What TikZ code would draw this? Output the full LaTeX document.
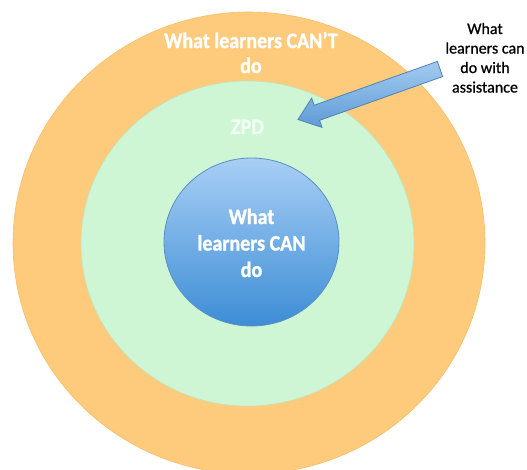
\documentclass[tikz,border=0pt]{standalone}
\usepackage{fontspec}
\setmainfont{Carlito}
\newfontfamily\tallfont{Carlito}[FakeStretch=0.91, FakeBold=1.2]
\newfontfamily\sidefont{Carlito}[FakeBold=0.8]
\usetikzlibrary{shapes.geometric,calc}
\definecolor{orangefill}{HTML}{FDCB7B}
\definecolor{orangeline}{HTML}{F5BF6C}
\definecolor{greenfill}{HTML}{CEF5D4}
\definecolor{greenline}{HTML}{BFE6C3}
\definecolor{bluetop}{HTML}{A8CFF5}
\definecolor{bluebot}{HTML}{3D8DD5}
\definecolor{blueline}{HTML}{5A90C4}
\definecolor{arrowtop}{HTML}{A3CBF0}
\definecolor{arrowbot}{HTML}{5E9BD6}
\definecolor{arrowline}{HTML}{4F82B8}
\definecolor{zpdtext}{HTML}{F2FFF4}
\tikzset{
  ring/.style={ellipse, inner sep=0pt},
  whitelabel/.style={text=white, font=\tallfont\bfseries\fontsize{22}{26}\selectfont, align=center, inner sep=0pt},
  sidelabel/.style={text=black, font=\sidefont\fontsize{16}{19.5}\selectfont, align=center, inner sep=0pt}
}
\begin{document}
\begin{tikzpicture}[x=1pt,y=-1pt]
\useasboundingbox (0,0) rectangle (527,469);
\fill[white] (0,0) rectangle (527,469);
\node[ring, fill=orangefill, draw=orangeline, line width=0.6pt, minimum width=472pt, minimum height=462pt] (outer) at (249,243) {};
\node[ring, fill=greenfill, draw=greenline, line width=0.6pt, minimum width=333pt, minimum height=325pt] (zpdring) at (247.5,243.5) {};
\node[ring, top color=bluetop, bottom color=bluebot, draw=blueline, line width=0.8pt, minimum width=175pt, minimum height=168pt] (inner) at (251.5,242) {};
\node[whitelabel, font=\tallfont\bfseries\fontsize{22}{25}\selectfont, anchor=base] (cant) at (251,73) {What learners CAN’T\\do};
\node[whitelabel, text=zpdtext, anchor=base] (zpd) at (247.5,134) {ZPD};
\node[whitelabel, font=\tallfont\bfseries\fontsize{22}{26.5}\selectfont, anchor=base] (can) at (251.5,277) {What\\learners CAN\\do};
\coordinate (arrtail) at (440,69);
\coordinate (arrtip) at (298,119.5);
\coordinate (arrhead) at ($(arrtip)!20pt!(arrtail)$);
\draw[arrowline, line width=0.8pt, top color=arrowtop, bottom color=arrowbot, line join=miter]
  ($(arrtail)!8pt!90:(arrtip)$) -- ($(arrhead)!8pt!-90:(arrtail)$) -- ($(arrhead)!15.5pt!-90:(arrtail)$) -- (arrtip)
  -- ($(arrhead)!15.5pt!90:(arrtail)$) -- ($(arrhead)!8pt!90:(arrtail)$) -- ($(arrtail)!8pt!-90:(arrtip)$) -- cycle;
\node[sidelabel, anchor=base] (assist) at (485,92.5) {What\\learners can\\do with\\assistance};
\end{tikzpicture}
\end{document}
